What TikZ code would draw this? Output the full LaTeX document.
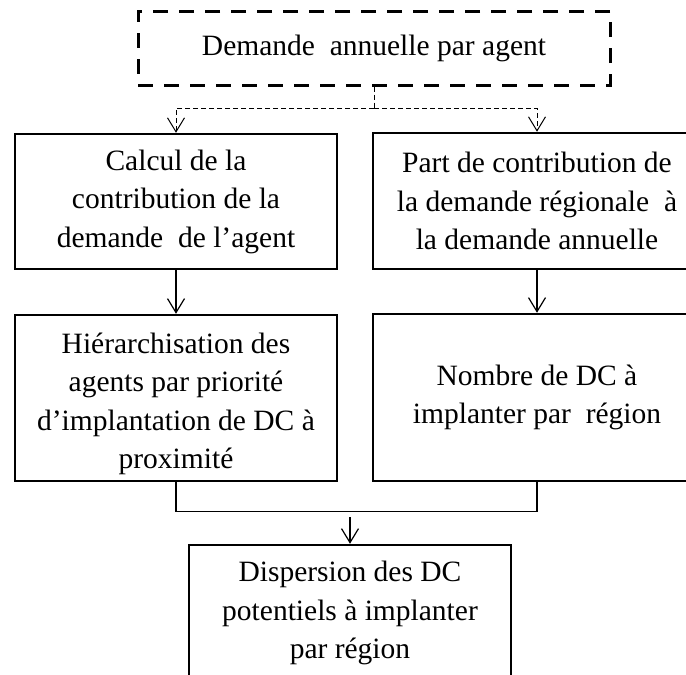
\documentclass[tikz,border=0pt]{standalone}
\usepackage{fontspec}
\setmainfont{Liberation Serif}
\usetikzlibrary{arrows.meta}

\begin{document}
\begin{tikzpicture}[x=1pt, y=-1pt,
  txt/.style={font=\fontsize{29.5}{38.5}\selectfont, align=center, inner sep=0pt},
  box/.style={txt, draw, line width=2.5pt, minimum width=322pt},
  dashbox/.style={txt, draw, line width=3pt, dash pattern=on 15pt off 11pt},
  tip/.style={-{Straight Barb[length=14pt,width=17pt]}},
  flow/.style={line width=1.2pt, tip},
  dflow/.style={line width=1pt, dash pattern=on 5pt off 3pt},
  mergeline/.style={line width=1.3pt}
]
\useasboundingbox (0,0) rectangle (686,675);
\clip (0,0) rectangle (686,675);

% input
\node[dashbox, minimum width=472pt, minimum height=74pt] (demande) at (374,48)
  {Demande\ \ annuelle par agent};

% first row
\node[box, minimum height=135pt] (calcul) at (176,201.5)
  {Calcul de la\\contribution de la\\demande\ \ de l’agent};
\node[box, minimum width=328pt, minimum height=136pt] (part) at (537,201)
  {Part de contribution de\\la demande régionale\ \ à\\la demande annuelle};

% second row (the four-line text sits a little low in its frame)
\node[box, minimum height=166pt] (hier) at (176,398) {};
\node[txt] (hiertext) at (176,404)
  {Hiérarchisation des\\agents par priorité\\d’implantation de DC à\\proximité};
\node[box, minimum width=328pt, minimum height=167pt] (nombre) at (537,397.5)
  {Nombre de DC à\\implanter par\ \ région};

% result
\node[box, minimum height=136pt] (disp) at (350,613)
  {Dispersion des DC\\potentiels à implanter\\par région};

% dashed split from the input box
\coordinate (split) at (374,108);
\draw[dflow] (demande.south) -- (split);
\draw[dflow, tip] (split) -| (calcul.north);
\draw[dflow, tip] (split) -| (part.north);

% vertical flows
\draw[flow] (calcul.south) -- (hier.north);
\draw[flow] (part.south) -- (nombre.north);

% merge of both branches
\draw[mergeline] (hier.south) -- ++(0,29) -| (nombre.south);
\coordinate (merge) at (350,517);
\draw[flow] (merge) -- (disp.north);
\end{tikzpicture}
\end{document}
